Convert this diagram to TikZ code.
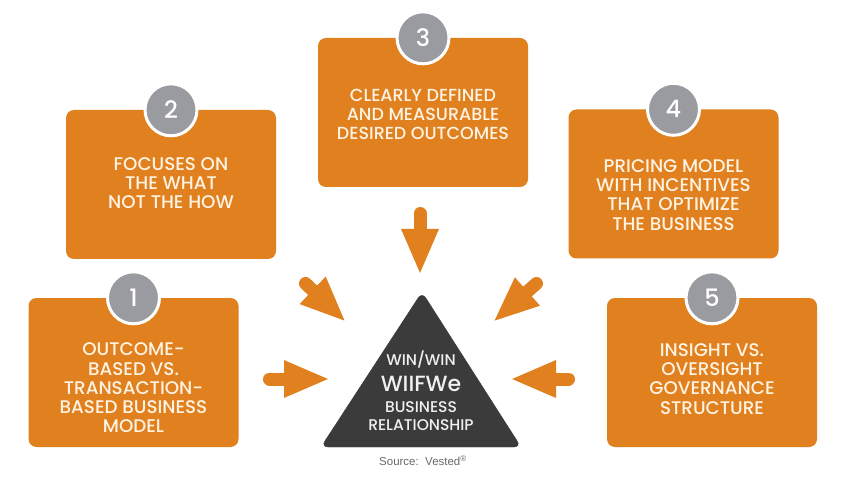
\documentclass[tikz,border=0pt]{standalone}
\usepackage{fontspec}
\setmainfont{Poppins Medium}
\newfontfamily\srcfont{Liberation Sans}
\usepackage{xcolor}
\usetikzlibrary{arrows.meta,positioning}
\definecolor{boxorange}{HTML}{E0801F}
\definecolor{numgray}{HTML}{9A9BA0}
\definecolor{tridark}{HTML}{3B3B3B}
\definecolor{labelcream}{HTML}{FFF3E3}
\definecolor{srcgray}{HTML}{6A6A6A}

\begin{document}
\begin{tikzpicture}[x=1pt,y=-1pt,
    panel/.style={fill=boxorange, rounded corners=8pt, minimum width=210pt, minimum height=149pt, inner sep=0pt},
    badge/.style={circle, fill=numgray, draw=white, line width=3pt, minimum size=52pt, inner sep=0pt, text=white, font=\fontsize{24}{24}\selectfont},
    caption/.style={text=labelcream, align=center, font=\fontsize{18.3}{19.2}\selectfont},
    pointer/.style={boxorange, line width=13pt, line cap=round, -{Triangle[width=34pt,length=46pt]}},
    centretext/.style={text=white!94!black, align=center}]
    \useasboundingbox[fill=white] (0,0) rectangle (851,478);

    % Orange panels
    \node[panel] (box1) at (133.5,372.5) {};
    \node[panel] (box2) at (171,184.5) {};
    \node[panel] (box3) at (423,112.5) {};
    \node[panel] (box4) at (673.5,184) {};
    \node[panel] (box5) at (712,372.5) {};

    % Numbered badges
    \node[badge] (num1) at (box1.north) {1};
    \node[badge] (num2) at (box2.north) {2};
    \node[badge] (num3) at (box3.north) {3};
    \node[badge] (num4) at (box4.north) {4};
    \node[badge] (num5) at (box5.north) {5};

    % Panel texts
    \node[caption] (text1) at (133.5,388) {OUTCOME-\\BASED VS.\\TRANSACTION-\\BASED BUSINESS\\MODEL};
    \node[caption] (text2) at (171,183) {FOCUSES ON\\THE WHAT\\NOT THE HOW};
    \node[caption, font=\fontsize{17.5}{19}\selectfont] (text3) at (423,114) {CLEARLY DEFINED\\AND MEASURABLE\\DESIRED OUTCOMES};
    \node[caption] (text4) at (673.5,195) {PRICING MODEL\\WITH INCENTIVES\\THAT OPTIMIZE\\THE BUSINESS};
    \node[caption] (text5) at (712,379) {INSIGHT VS.\\OVERSIGHT\\GOVERNANCE\\STRUCTURE};

    % Central triangle
    \draw[fill=tridark, draw=tridark, rounded corners=7pt] (422,292) -- (521,447) -- (321,447) -- cycle;
    \node[centretext, font=\fontsize{15.5}{15.5}\selectfont] (win) at (421,360) {WIN/WIN};
    \node[centretext, font=\fontsize{22}{22}\selectfont] (wiifwe) at (421,384) {WIIFWe};
    \node[centretext, font=\fontsize{15.5}{17.5}\selectfont] (relation) at (421,416) {BUSINESS\\RELATIONSHIP};

    % Source line
    \node[text=srcgray, font=\srcfont\fontsize{11.5}{12}\selectfont] (source) at (423,461) {Source:\ \ Vested\textsuperscript{\textregistered}};

    % Arrows pointing inwards
    \coordinate (tail1) at (269.5,379);  \coordinate (tip1) at (330,379);
    \coordinate (tail2) at (305.5,283.5); \coordinate (tip2) at (346,322);
    \coordinate (tail3) at (420,213.5);  \coordinate (tip3) at (420,275);
    \coordinate (tail4) at (536.5,283.5); \coordinate (tip4) at (493,322);
    \coordinate (tail5) at (568.5,379);  \coordinate (tip5) at (510,379);
    \foreach \k in {1,...,5}
        \draw[pointer] (tail\k) -- (tip\k);
\end{tikzpicture}
\end{document}
